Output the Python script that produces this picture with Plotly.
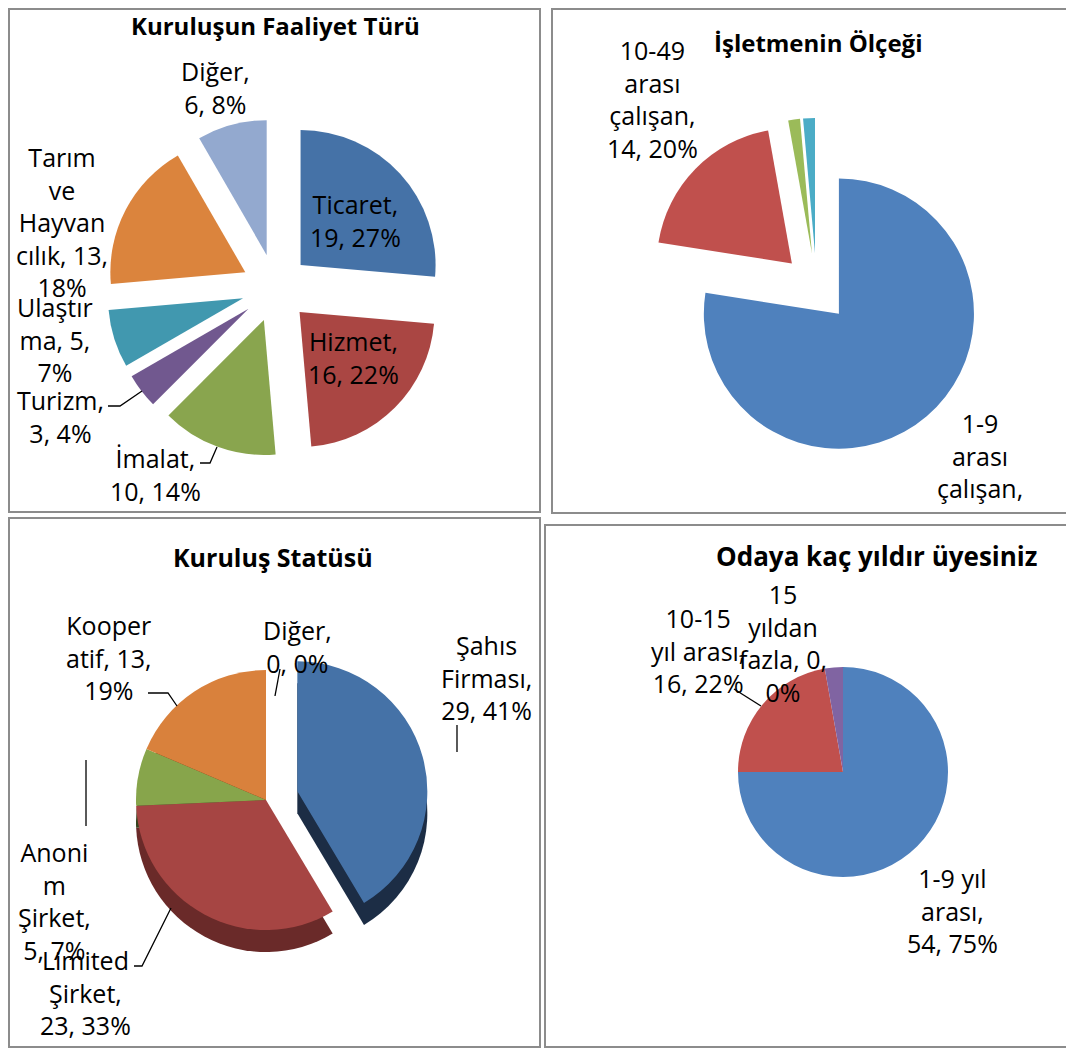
import plotly.graph_objects as go

W, H = 1074, 1050
# the page body adds an 8px margin; positions below are given in screen pixels
OX, OY = 8, 8

# ---------------- data ----------------
# Chart 1: Kuruluşun Faaliyet Türü
faaliyet_labels = ["Ticaret", "Hizmet", "İmalat", "Turizm", "Ulaştırma", "Tarım ve Hayvancılık", "Diğer"]
faaliyet_values = [19, 16, 10, 3, 5, 13, 6]
faaliyet_pct = [27, 22, 14, 4, 7, 18, 8]
faaliyet_tpl = ["Ticaret,<br>{v}, {p}%", "Hizmet,<br>{v}, {p}%", "İmalat,<br>{v}, {p}%",
                "Turizm,<br>{v}, {p}%", "Ulaştır<br>ma, {v},<br>{p}%",
                "Tarım<br>ve<br>Hayvan<br>cılık, {v},<br>{p}%", "Diğer,<br>{v}, {p}%"]
faaliyet_colors = ["#4572A7", "#AA4643", "#89A54E", "#71588F", "#4198AF", "#DB843D", "#93A9CF"]

# Chart 2: İşletmenin Ölçeği
olcek_labels = ["1-9 arası çalışan", "10-49 arası çalışan", "50-249 arası çalışan", "250 ve üzeri çalışan"]
olcek_values = [55, 14, 1, 1]
olcek_pct = [77, 20, 1, 1]
olcek_tpl = ["1-9<br>arası<br>çalışan,", "10-49<br>arası<br>çalışan,<br>{v}, {p}%", None, None]
olcek_colors = ["#4F81BD", "#C0504D", "#9BBB59", "#4BACC6"]

# Chart 3: Kuruluş Statüsü
statu_labels = ["Şahıs Firması", "Limited Şirket", "Anonim Şirket", "Kooperatif", "Diğer"]
statu_values = [29, 23, 5, 13, 0]
statu_pct = [41, 33, 7, 19, 0]
statu_tpl = ["Şahıs<br>Firması,<br>{v}, {p}%", "Limited<br>Şirket,<br>{v}, {p}%",
             "Anoni<br>m<br>Şirket,<br>{v}, {p}%", "Kooper<br>atif, {v},<br>{p}%", "Diğer,<br>{v}, {p}%"]
statu_colors = ["#4572A7", "#A64543", "#87A54B", "#D9813C", "#93A9CF"]
statu_side_colors = ["#1C2D45", "#6A2A29", "#36431F", "#5A3519", "#3B4A66"]

# Chart 4: Odaya kaç yıldır üyesiniz
uyelik_labels = ["1-9 yıl arası", "10-15 yıl arası", "15 yıldan fazla", "Belirtilmemiş"]
uyelik_values = [54, 16, 0, 2]
uyelik_pct = [75, 22, 0, 3]
uyelik_tpl = ["1-9 yıl<br>arası,<br>{v}, {p}%", "10-15<br>yıl arası,<br>{v}, {p}%",
              "15<br>yıldan<br>fazla, {v},<br>{p}%", None]
uyelik_colors = ["#4F81BD", "#C0504D", "#9BBB59", "#8064A2"]

titles = ["Kuruluşun Faaliyet Türü", "İşletmenin Ölçeği", "Kuruluş Statüsü", "Odaya kaç yıldır üyesiniz"]

# ---------------- layout helpers ----------------
FONT = "Open Sans"


def fx(x):
    return (x - OX) / W


def fy(y):
    return 1 - (y - OY) / H


def dom(cx, cy, size):
    return dict(x=[fx(cx - size / 2), fx(cx + size / 2)],
                y=[fy(cy + size / 2), fy(cy - size / 2)])


def pie(labels, values, colors, domain, pull, rotation=0):
    return go.Pie(labels=labels, values=values, sort=False, direction="clockwise",
                  rotation=rotation, domain=domain, pull=pull, textinfo="none",
                  marker=dict(colors=colors, line=dict(width=0)), showlegend=False,
                  hovertemplate="%{label}: %{value} (%{percent})<extra></extra>")


fig = go.Figure()

fig.add_trace(pie(faaliyet_labels, faaliyet_values, faaliyet_colors,
                  dom(275.5, 288, 338), [0.252] * len(faaliyet_values)))
fig.add_trace(pie(olcek_labels, olcek_values, olcek_colors,
                  dom(816.5, 287.5, 339), [0.255] * len(olcek_values)))
# pseudo-3D: darker copy underneath, shifted down
statu_pull = [0.25, 0, 0, 0, 0]
fig.add_trace(pie(statu_labels, statu_values, statu_side_colors,
                  dom(266, 822, 325), statu_pull))
fig.add_trace(pie(statu_labels, statu_values, statu_colors,
                  dom(266, 800, 325), statu_pull))
fig.add_trace(pie(uyelik_labels, uyelik_values, uyelik_colors,
                  dom(843, 772, 210), [0] * len(uyelik_values)))

annotations = []


def add_text(text, x, y, size=25, bold=False):
    annotations.append(dict(text=("<b>%s</b>" % text) if bold else text,
                            x=fx(x), y=fy(y), xref="paper", yref="paper",
                            xanchor="center", yanchor="middle", showarrow=False,
                            font=dict(family=FONT, size=size, color="#000000")))


# titles
title_pos = [(275, 25), (818, 42), (273, 557), (876, 556)]
title_size = [24, 24, 25, 26]
for t, (x, y), s in zip(titles, title_pos, title_size):
    add_text(t, x, y, size=s, bold=True)

# data labels
faaliyet_pos = [(355, 220), (353, 358), (155, 474), (60, 416), (55, 339), (62, 222), (215, 88)]
for tpl, v, p, (x, y) in zip(faaliyet_tpl, faaliyet_values, faaliyet_pct, faaliyet_pos):
    add_text(tpl.format(v=v, p=p), x, y)

olcek_pos = [(980, 455), (652, 99), None, None]
for tpl, v, p, pos in zip(olcek_tpl, olcek_values, olcek_pct, olcek_pos):
    if tpl:
        add_text(tpl.format(v=v, p=p), pos[0], pos[1])

statu_pos = [(486, 677), (85, 992), (54, 901), (109, 657), (297, 646)]
for tpl, v, p, (x, y) in zip(statu_tpl, statu_values, statu_pct, statu_pos):
    add_text(tpl.format(v=v, p=p), x, y)

uyelik_pos = [(952, 910), (698, 650), (783, 643), None]
for tpl, v, p, pos in zip(uyelik_tpl, uyelik_values, uyelik_pct, uyelik_pos):
    if tpl:
        add_text(tpl.format(v=v, p=p), pos[0], pos[1])

# leader lines (screen-pixel coordinates of label connectors)
leaders = [
    [(108, 406), (120, 406), (142, 391)],      # Turizm
    [(200, 463), (210, 463), (217, 447)],      # İmalat
    [(148, 693), (168, 693), (177, 706)],      # Kooperatif
    [(280, 669), (275, 696)],                  # Diğer (statü)
    [(457, 725), (457, 752)],                  # Şahıs
    [(86, 760), (86, 826)],                    # Anonim
    [(134, 966), (142, 966), (171, 908)],      # Limited
    [(734, 689), (761, 706)],                  # 10-15 yıl
]
shapes = []
for pts in leaders:
    path = "M " + " L ".join("%.5f,%.5f" % (fx(x), fy(y)) for x, y in pts)
    shapes.append(dict(type="path", path=path, xref="paper", yref="paper",
                       line=dict(color="#000000", width=1.3)))

# panel borders
panels = [(9, 9, 540, 512), (552, 9, 1085, 513), (9, 518, 540, 1047), (545, 525, 1085, 1047)]
for x0, y0, x1, y1 in panels:
    shapes.append(dict(type="rect", xref="paper", yref="paper",
                       x0=fx(x0), x1=fx(x1), y0=fy(y1), y1=fy(y0),
                       line=dict(color="#8C8C8C", width=2), fillcolor="rgba(0,0,0,0)"))

fig.update_layout(width=W, height=H, margin=dict(l=0, r=0, t=0, b=0),
                  paper_bgcolor="white", plot_bgcolor="white",
                  annotations=annotations, shapes=shapes, showlegend=False,
                  font=dict(family=FONT))

fig.write_html("out.html")
